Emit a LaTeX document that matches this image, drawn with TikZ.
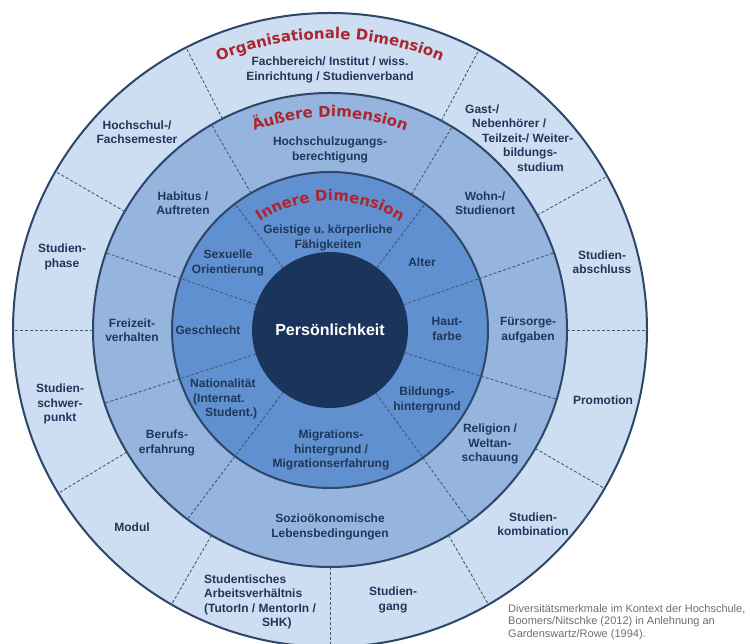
\documentclass[tikz,border=0pt]{standalone}
\usepackage{fontspec}
\setmainfont{Liberation Sans}
\newfontfamily\dimfamily{DejaVu Sans}
\usepackage{xcolor}
\usetikzlibrary{decorations.text}

\definecolor{orgblau}{RGB}{205,222,242}
\definecolor{aussenblau}{RGB}{150,181,222}
\definecolor{innenblau}{RGB}{96,144,208}
\definecolor{kernblau}{RGB}{26,52,92}
\definecolor{randblau}{RGB}{45,70,105}
\definecolor{textblau}{RGB}{30,55,90}
\definecolor{dimrot}{RGB}{172,38,48}
\definecolor{quellgrau}{RGB}{110,110,110}
\newcommand{\dimschrift}{\dimfamily\bfseries\fontsize{15}{15}\selectfont}

\begin{document}
\begin{tikzpicture}[x=1pt, y=1pt,
% common options for the rings:
ring/.style = {circle, draw=randblau, line width=2pt, inner sep=0, outer sep=0},
% common options for the labels:
merkmal/.style = {font=\fontsize{12}{14.5}\selectfont\bfseries, text=textblau,
            align=center, inner sep=0},
% dashed separators:
trenn/.style = {draw=randblau!90, line width=0.9pt, dash pattern=on 3pt off 2pt},
% titles along the arcs:
dimtitel/.style = {decorate, decoration={text along path, text align=center,
            text color=dimrot, text={|\dimschrift|#1}}}]
\useasboundingbox (0,0) rectangle (750,644);
\node[ring, fill=orgblau, minimum size=634pt] (org) at (330,314) {};
\node[ring, fill=aussenblau, minimum size=474pt] (aus) at (330,314) {};
\node[ring, fill=innenblau, minimum size=316pt] (inn) at (330,314) {};
\node[circle, fill=kernblau, minimum size=156pt, inner sep=0, outer sep=0,
      text=white, font=\fontsize{16}{18}\selectfont\bfseries] (kern) at (330,314) {Persönlichkeit};
% organisationale Dimension
\draw[trenn] (aus.117.5) -- (org.117.5);
\draw[trenn] (aus.62.5) -- (org.62.5);
\draw[trenn] (aus.29.5) -- (org.29.5);
\draw[trenn] (aus.0) -- (org.0);
\draw[trenn] (aus.-30) -- (org.-30);
\draw[trenn] (aus.-60) -- (org.-60);
\draw[trenn] (aus.-90) -- (org.-90);
\draw[trenn] (aus.-120) -- (org.-120);
\draw[trenn] (aus.-149.5) -- (org.-149.5);
\draw[trenn] (aus.180) -- (org.180);
\draw[trenn] (aus.150) -- (org.150);
% aeussere und innere Dimension
\draw[trenn] (inn.120.5) -- (aus.120.5);
\draw[trenn] (inn.59.5) -- (aus.59.5);
\draw[trenn] (kern.127) -- (inn.127);
\draw[trenn] (kern.53) -- (inn.53);
\draw[trenn] (kern.19.5) -- (aus.19.5);
\draw[trenn] (kern.-17.5) -- (aus.-17.5);
\draw[trenn] (kern.-54.5) -- (aus.-54.5);
\draw[trenn] (kern.-127) -- (aus.-127);
\draw[trenn] (kern.-162.5) -- (aus.-162.5);
\draw[trenn] (kern.161) -- (aus.161);
% titles
\path[dimtitel=Organisationale Dimension] (330,314) ++(165:291pt) arc[start angle=165, end angle=15, radius=291pt];
\path[dimtitel=Äußere Dimension] (330,314) ++(165:213pt) arc[start angle=165, end angle=15, radius=213pt];
\path[dimtitel=Innere Dimension] (330,314) ++(165:129pt) arc[start angle=165, end angle=15, radius=129pt];
% outer ring
\node[merkmal] (fachbereich) at (330,574) {Fachbereich/ Institut / wiss.\\Einrichtung / Studienverband};
\node[merkmal] (semester) at (137,512) {Hochschul-/\\Fachsemester};
\node[merkmal, align=left, anchor=west] (gast) at (465,506) {Gast-/\\\hspace*{7pt}Nebenhörer /\\\hspace*{17pt}Teilzeit-/ Weiter-\\\hspace*{38pt}bildungs-\\\hspace*{52pt}studium};
\node[merkmal] (abschluss) at (602,382) {Studien-\\abschluss};
\node[merkmal] (promotion) at (603,244) {Promotion};
\node[merkmal] (kombination) at (533,120) {Studien-\\kombination};
\node[merkmal] (studiengang) at (393,44) {Studien-\\gang};
\node[merkmal, align=left, anchor=west] (arbeit) at (204,42) {Studentisches\\Arbeitsverhältnis\\(TutorIn / MentorIn /\\\hspace*{58pt}SHK)};
\node[merkmal] (modul) at (132,117) {Modul};
\node[merkmal] (schwerpunkt) at (60,240) {Studien-\\schwer-\\punkt};
\node[merkmal] (phase) at (62,387) {Studien-\\phase};
% middle ring
\node[merkmal] (zugang) at (330,494) {Hochschulzugangs-\\berechtigung};
\node[merkmal] (habitus) at (183,441) {Habitus /\\Auftreten};
\node[merkmal] (wohnort) at (485,441) {Wohn-/\\Studienort};
\node[merkmal] (fuersorge) at (528,314) {Fürsorge-\\aufgaben};
\node[merkmal] (religion) at (490,200) {Religion /\\Weltan-\\schauung};
\node[merkmal] (soziooek) at (330,117) {Sozioökonomische\\Lebensbedingungen};
\node[merkmal] (beruf) at (167,201) {Berufs-\\erfahrung};
\node[merkmal] (freizeit) at (132,314) {Freizeit-\\verhalten};
% inner ring
\node[merkmal] (faehigkeit) at (328,406) {Geistige u.\ körperliche\\Fähigkeiten};
\node[merkmal] (alter) at (422,382) {Alter};
\node[merkmal] (haut) at (447,315) {Haut-\\farbe};
\node[merkmal] (bildung) at (427,244) {Bildungs-\\hintergrund};
\node[merkmal] (migration) at (331,194) {Migrations-\\hintergrund /\\Migrationserfahrung};
\node[merkmal, align=left, anchor=west] (nation) at (190,245) {Nationalität\\\hspace*{3pt}(Internat.\\\hspace*{15pt}Student.)};
\node[merkmal] (geschlecht) at (208,314) {Geschlecht};
\node[merkmal] (sexuell) at (228,381) {Sexuelle\\Orientierung};
% source
\node[font=\fontsize{11}{12.5}\selectfont, text=quellgrau, align=left, anchor=west, inner sep=0] (quelle) at (508,22) {Diversitätsmerkmale im Kontext der Hochschule,\\Boomers/Nitschke (2012) in Anlehnung an\\Gardenswartz/Rowe (1994).};
\end{tikzpicture}
\end{document}
